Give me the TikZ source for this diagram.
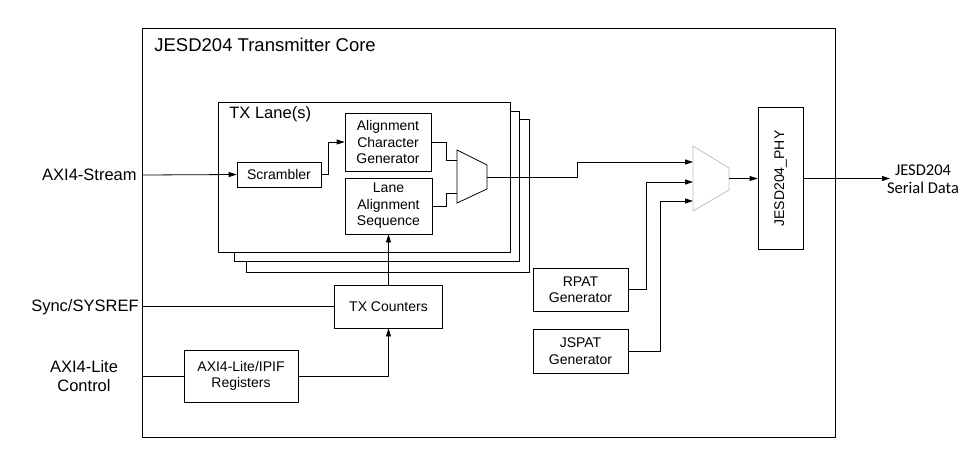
\documentclass[tikz,border=0pt]{standalone}
\usepackage{fontspec}
\setmainfont{Liberation Sans}
\newfontfamily\calib{Carlito}
\usetikzlibrary{arrows.meta}
\begin{document}
\begin{tikzpicture}[x=1pt,y=-1pt, line width=0.8pt, line join=miter,
 blk/.style={draw, fill=white, align=center, font=\fontsize{14}{16.5}\selectfont, inner sep=0pt},
 lane/.style={draw, fill=white},
 arr/.style={-{Triangle[length=8pt,width=5pt]}},
 lbl/.style={font=\fontsize{16.5}{19}\selectfont, align=center, inner sep=0pt},
 muxg/.style={draw=black!25}]
\useasboundingbox (0,0) rectangle (971,461);
% outer core
\node[draw, minimum width=693pt, minimum height=409pt, inner sep=0pt] (core) at (488.5,232.5) {};
\node[anchor=west, font=\fontsize{18.5}{22}\selectfont, inner sep=0pt] (title) at (154,45) {JESD204 Transmitter Core};
% lanes
\node[lane, minimum width=283pt, minimum height=153pt, inner sep=0pt] (lane3) at (387.5,195.5) {};
\node[lane, minimum width=285pt, minimum height=150pt, inner sep=0pt] (lane2) at (376.5,186) {};
\node[lane, minimum width=292pt, minimum height=150pt, inner sep=0pt] (lane1) at (364,177) {};
\node[anchor=west, font=\fontsize{16.5}{19}\selectfont, inner sep=0pt] (lanelbl) at (229,114) {TX Lane(s)};
% blocks
\node[blk, minimum width=84pt, minimum height=25pt] (scr) at (279,174.5) {Scrambler};
\node[blk, minimum width=86pt, minimum height=58pt] (acg) at (388,142) {Alignment\\Character\\Generator};
\node[blk, minimum width=87pt, minimum height=56pt] (las) at (388.5,206) {Lane\\Alignment\\Sequence};
\node[blk, minimum width=108pt, minimum height=43pt] (txc) at (388.5,306.5) {TX Counters};
\node[blk, minimum width=114pt, minimum height=52pt] (regs) at (241,376) {AXI4-Lite/IPIF\\Registers};
\node[blk, minimum width=95pt, minimum height=43pt] (rpat) at (580.5,289.5) {RPAT\\Generator};
\node[blk, minimum width=95pt, minimum height=44pt] (jspat) at (580.5,351) {JSPAT\\Generator};
\node[blk, minimum width=45pt, minimum height=142pt] (phy) at (780.5,178.5) {\rotatebox{90}{JESD204\_PHY}};
% muxes
\draw (457,150) -- (487,165) -- (487,189) -- (457,203) -- cycle;
\coordinate (m1a) at (457,160);
\coordinate (m1b) at (457,193);
\coordinate (m1o) at (487,177);
\draw[muxg] (693,146) -- (729,168) -- (729,190) -- (693,211) -- cycle;
\coordinate (m2a) at (693,162);
\coordinate (m2b) at (693,182);
\coordinate (m2c) at (693,201);
\coordinate (m2o) at (729,178.5);
% external labels
\node[lbl, anchor=east] (axis) at (137,175) {AXI4-Stream};
\node[lbl, anchor=east] (sync) at (139,307) {Sync/SYSREF};
\node[lbl] (axil) at (84,376) {AXI4-Lite\\Control};
\node[font=\calib\fontsize{16.5}{18.5}\selectfont, align=center, inner sep=0pt] (serial) at (923,179) {JESD204\\Serial Data};
\coordinate (inS) at (143,175);
\coordinate (inY) at (143,306.5);
\coordinate (inL) at (143,376);
\coordinate (outD) at (890,178.5);
% connectors
\draw[arr] (inS) -- (scr.west);
\draw[arr] (scr.east) -- ++(7,0) |- (acg.west);
\draw (acg.east) -- (446,142) |- (m1a);
\draw (las.east) -- (446,206) |- (m1b);
\draw[arr] (m1o) -- (577,177) |- (m2a);
\draw[arr] (rpat.east) -- (646,289.5) |- (m2b);
\draw[arr] (jspat.east) -- (660,351) |- (m2c);
\draw[arr] (m2o) -- (phy.west);
\draw[arr] (phy.east) -- (outD);
\draw (inY) -- (txc.west);
\draw (inL) -- (regs.west);
\draw[arr] (txc.north) -- (las.south);
\draw[arr] (regs.east) -| (txc.south);
\end{tikzpicture}
\end{document}
